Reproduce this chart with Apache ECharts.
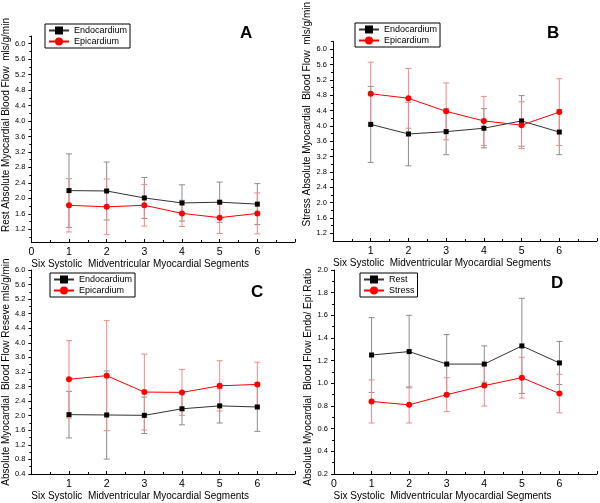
<!DOCTYPE html>
<html>
<head>
<meta charset="utf-8">
<script src="https://cdn.jsdelivr.net/npm/echarts@6/dist/echarts.min.js"></script>
<style>
  html, body { margin: 0; padding: 0; background: #fff; }
  #chart { width: 600px; height: 503px; }
</style>
</head>
<body>
<div id="chart"></div>
<script>
const segments = [1, 2, 3, 4, 5, 6]

// A: rest flow
const restEndo = [2.20, 2.19, 2.01, 1.88, 1.90, 1.85]
const restEndoSd = [0.95, 0.75, 0.53, 0.47, 0.52, 0.53]
const restEpi = [1.82, 1.78, 1.82, 1.61, 1.50, 1.61]
const restEpiSd = [0.69, 0.72, 0.54, 0.34, 0.41, 0.53]

// B: stress flow
const stressEndo = [4.04, 3.79, 3.85, 3.94, 4.13, 3.84]
const stressEndoSd = [0.99, 0.83, 0.60, 0.51, 0.66, 0.59]
const stressEpi = [4.84, 4.72, 4.38, 4.13, 4.02, 4.36]
const stressEpiSd = [0.82, 0.78, 0.74, 0.64, 0.61, 0.87]

// C: flow reserve
const reserveEndo = [2.03, 2.02, 2.01, 2.19, 2.27, 2.24]
const reserveEndoSd = [0.64, 1.21, 0.50, 0.44, 0.47, 0.67]
const reserveEpi = [3.00, 3.10, 2.65, 2.64, 2.82, 2.86]
const reserveEpiSd = [1.06, 1.51, 1.04, 0.63, 0.69, 0.61]

// D: endo/epi ratio
const ratioRest = [1.25, 1.28, 1.17, 1.17, 1.33, 1.18]
const ratioRestSd = [0.33, 0.32, 0.26, 0.16, 0.42, 0.19]
const ratioStress = [0.84, 0.81, 0.90, 0.98, 1.05, 0.91]
const ratioStressSd = [0.19, 0.16, 0.15, 0.18, 0.18, 0.17]

const flowTicks = [1.2, 1.6, 2.0, 2.4, 2.8, 3.2, 3.6, 4.0, 4.4, 4.8, 5.2, 5.6, 6.0]
const reserveTicks = [0.4, 0.8, 1.2, 1.6, 2.0, 2.4, 2.8, 3.2, 3.6, 4.0, 4.4, 4.8, 5.2, 5.6, 6.0]
const ratioTicks = [0.2, 0.4, 0.6, 0.8, 1.0, 1.2, 1.4, 1.6, 1.8, 2.0]

const FONT = 'Liberation Sans, Arial, sans-serif'
const X_NAME = 'Six Systolic  Midventricular Myocardial Segments'

const panels = [
  {
    letter: 'A', grid: { left: 31, top: 36, width: 264, height: 206 },
    min: 0.87, max: 6.2, ticks: flowTicks, showZero: true,
    yName: 'Rest Absolute Myocardial Blood Flow  mls/g/min', yShift: 14, yGap: 15,
    names: ['Endocardium', 'Epicardium'],
    series: [[restEndo, restEndoSd], [restEpi, restEpiSd]],
    legend: { left: 45, top: 24 }, title: { left: 240, top: 25 },
  },
  {
    letter: 'B', grid: { left: 333, top: 36, width: 265, height: 205 },
    min: 1.0, max: 6.2, ticks: flowTicks, showZero: false,
    yName: 'Stress Absolute Myocardial  Blood Flow  mls/g/min', yShift: 27, yGap: 18,
    names: ['Endocardium', 'Epicardium'],
    series: [[stressEndo, stressEndoSd], [stressEpi, stressEpiSd]],
    legend: { left: 355, top: 23 }, title: { left: 547, top: 25 },
  },
  {
    letter: 'C', grid: { left: 31, top: 270, width: 264, height: 204 },
    min: 0.4, max: 6.0, ticks: reserveTicks, showZero: false,
    yName: 'Absolute Myocardial  Blood Flow Reseve mls/g/min', yShift: 0, yGap: 15,
    names: ['Endocardium', 'Epicardium'],
    series: [[reserveEndo, reserveEndoSd], [reserveEpi, reserveEpiSd]],
    legend: { left: 50, top: 273 }, title: { left: 251, top: 284 },
  },
  {
    letter: 'D', grid: { left: 334, top: 270, width: 264, height: 204 },
    min: 0.2, max: 2.0, ticks: ratioTicks, showZero: true,
    yName: 'Absolute Myocardial  Blood Flow Endo/ Epi Ratio', yShift: -5, yGap: 19,
    names: ['Rest', 'Stress'],
    series: [[ratioRest, ratioRestSd], [ratioStress, ratioStressSd]],
    legend: { left: 360, top: 273 }, title: { left: 551, top: 275 },
  },
]

const styles = [
  { symbol: 'rect', size: 5, fill: '#000', line: '#333', err: '#8c8c8c' },
  { symbol: 'circle', size: 6, fill: '#ff0000', line: '#ff0000', err: '#f08a8a' },
]

const minorOf = (ticks, min, max) => {
  const step = ticks[1] - ticks[0]
  const out = []
  const first = ticks[0] - step / 2
  if (first >= min) out.push(first)
  for (let i = 0; i < ticks.length - 1; i++) out.push((ticks[i] + ticks[i + 1]) / 2)
  const last = ticks[ticks.length - 1] + step / 2
  if (last <= max) out.push(last)
  return out
}

const errorBars = (color) => (params, api) => {
  const x = api.value(0)
  const top = api.coord([x, api.value(2)])
  const bot = api.coord([x, api.value(1)])
  const w = 3
  const style = { stroke: color, lineWidth: 1 }
  return {
    type: 'group',
    children: [
      { type: 'line', shape: { x1: top[0], y1: top[1], x2: bot[0], y2: bot[1] }, style },
      { type: 'line', shape: { x1: top[0] - w, y1: top[1], x2: top[0] + w, y2: top[1] }, style },
      { type: 'line', shape: { x1: bot[0] - w, y1: bot[1], x2: bot[0] + w, y2: bot[1] }, style },
    ],
  }
}

const grid = []
const xAxis = []
const yAxis = []
const series = []
const legend = []
const title = []

panels.forEach((p, i) => {
  grid.push({ ...p.grid, containLabel: false })

  xAxis.push({
    type: 'value', gridIndex: i, min: 0, max: 7, interval: 1,
    axisLine: { lineStyle: { color: '#000', width: 1 } },
    axisTick: { inside: true, length: 3, lineStyle: { color: '#000' } },
    minorTick: { show: true, splitNumber: 2, length: 2, lineStyle: { color: '#000' } },
    splitLine: { show: false },
    axisLabel: {
      color: '#000', fontSize: 10.5, fontFamily: FONT, margin: 5,
      formatter: (v) => (v === 7 || (v === 0 && !p.showZero) ? '' : String(v)),
    },
    name: X_NAME, nameLocation: 'middle', nameGap: 16,
    nameTextStyle: { color: '#000', fontSize: 10, fontFamily: FONT, padding: [0, 46, 0, 0] },
  })

  const shift = p.yShift
  yAxis.push({
    type: 'value', gridIndex: i, min: p.min, max: p.max, position: 'left',
    axisLine: { show: true, lineStyle: { color: '#000', width: 1 } },
    axisTick: { show: true, length: 3, customValues: p.ticks, lineStyle: { color: '#000' } },
    splitLine: { show: false },
    axisLabel: {
      customValues: p.ticks, color: '#000', fontSize: 7.5, fontFamily: FONT, margin: 6,
      formatter: (v) => v.toFixed(1),
    },
    name: p.yName, nameLocation: 'middle', nameGap: p.yGap,
    nameTextStyle: {
      color: '#000', fontSize: 10, fontFamily: FONT,
      padding: shift >= 0 ? [0, 0, 0, shift * 2] : [0, -shift * 2, 0, 0],
    },
  })
  // minor ticks
  yAxis.push({
    type: 'value', gridIndex: i, min: p.min, max: p.max, position: 'left',
    axisLine: { show: false },
    axisTick: { show: true, length: 2, customValues: minorOf(p.ticks, p.min, p.max), lineStyle: { color: '#000' } },
    axisLabel: { show: false },
    splitLine: { show: false },
  })
  const yIdx = yAxis.length - 2

  p.series.forEach(([mean, sd], k) => {
    const st = styles[k]
    series.push({
      type: 'custom', name: `${p.letter}-err-${k}`, xAxisIndex: i, yAxisIndex: yIdx,
      renderItem: errorBars(st.err),
      data: segments.map((s, j) => [s, mean[j] - sd[j], mean[j] + sd[j]]),
      encode: { x: 0, y: [1, 2] },
      z: 1,
    })
  })
  p.series.forEach(([mean], k) => {
    const st = styles[k]
    series.push({
      type: 'line', name: p.names[k], xAxisIndex: i, yAxisIndex: yIdx,
      data: segments.map((s, j) => [s, mean[j]]),
      symbol: st.symbol, symbolSize: st.size, showSymbol: true,
      itemStyle: { color: st.fill },
      lineStyle: { color: st.line, width: 1 },
      z: 3,
    })
  })

  legend.push({
    data: p.names, orient: 'vertical', left: p.legend.left, top: p.legend.top,
    borderColor: '#000', borderWidth: 1, padding: [2, 3], itemGap: 2,
    itemWidth: 20, itemHeight: 10,
    textStyle: { color: '#000', fontSize: 9, fontFamily: FONT },
    selectedMode: false,
  })

  title.push({
    text: p.letter, left: p.title.left, top: p.title.top, padding: 0,
    textStyle: { color: '#000', fontSize: 17, fontWeight: 'bold', fontFamily: FONT },
  })
})

const chart = echarts.init(document.getElementById('chart'))
chart.setOption({
  animation: false,
  backgroundColor: '#fff',
  title, legend, grid, xAxis, yAxis, series,
})
</script>
</body>
</html>
